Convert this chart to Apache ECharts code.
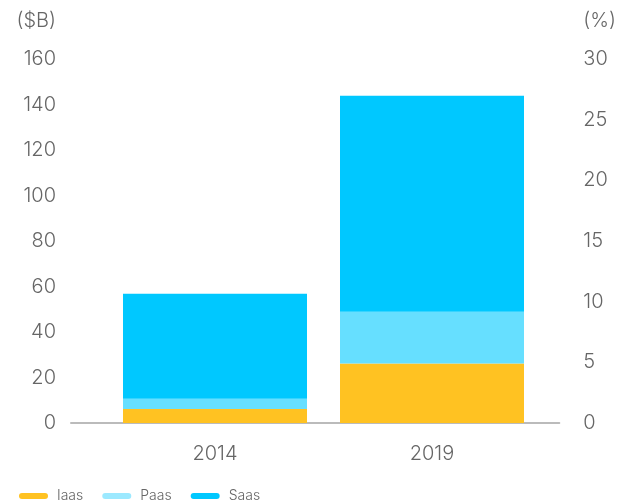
<!DOCTYPE html>
<html><head><meta charset="utf-8">
<script src="https://cdn.jsdelivr.net/npm/echarts@6/dist/echarts.min.js"></script>
<style>html,body{margin:0;padding:0;background:#fff}#c{width:619px;height:500px}</style>
</head><body><div id="c"></div>
<script>
const categories = ['2014', '2019'];
const iaas = [6.1, 26.1];
const paas = [4.6, 22.8];
const saas = [46.1, 95.0];
const leftTicks = [0, 160, 20];
const rightTicks = [0, 30, 5];

const FONT = 'Inter, "Noto Sans", sans-serif';
const LBL = {color: '#666', fontSize: 20, fontFamily: FONT, fontWeight: 300};
const PILL = 'path://M3,0 L26,0 A3,3 0 0 1 26,6 L3,6 A3,3 0 0 1 3,0 Z';
const chart = echarts.init(document.getElementById('c'), null, {renderer: 'canvas'});
chart.setOption({
  animation: false,
  grid: [
    {left: 106.5, right: 78.5, top: 59, bottom: 77},
    {left: 71, right: 52, top: 59, bottom: 77}
  ],
  legend: {
    left: 14, top: 484, icon: PILL, itemWidth: 29, itemHeight: 6, itemGap: 19,
    textStyle: {color: '#666', fontSize: 14, fontFamily: FONT, fontWeight: 300, padding: [0, 0, 0, 4]},
    data: [
      {name: 'Iaas', itemStyle: {color: '#FFC222'}},
      {name: 'Paas', itemStyle: {color: '#9CE9FF'}},
      {name: 'Saas', itemStyle: {color: '#00C8FF'}}
    ]
  },
  xAxis: [
    {type: 'category', gridIndex: 0, data: categories,
     axisLine: {show: false}, axisTick: {show: false},
     axisLabel: Object.assign({margin: 21}, LBL)},
    {type: 'category', gridIndex: 1, data: categories,
     axisLine: {show: true, lineStyle: {color: '#bbb', width: 2}},
     axisTick: {show: false}, axisLabel: {show: false}}
  ],
  yAxis: [
    {type: 'value', gridIndex: 0, min: leftTicks[0], max: leftTicks[1], interval: leftTicks[2], show: false},
    {type: 'value', gridIndex: 1, position: 'left', min: leftTicks[0], max: leftTicks[1], interval: leftTicks[2],
     name: '($B)', nameLocation: 'end', nameGap: 28,
     nameTextStyle: Object.assign({align: 'right', padding: [0, 15, 0, 0]}, LBL),
     axisLine: {show: false}, axisTick: {show: false}, splitLine: {show: false},
     axisLabel: Object.assign({margin: 15}, LBL)},
    {type: 'value', gridIndex: 1, position: 'right', min: rightTicks[0], max: rightTicks[1], interval: rightTicks[2],
     name: '(%)', nameLocation: 'end', nameGap: 28,
     nameTextStyle: Object.assign({align: 'left', padding: [0, 0, 0, 24]}, LBL),
     axisLine: {show: false}, axisTick: {show: false}, splitLine: {show: false},
     axisLabel: Object.assign({margin: 24}, LBL)}
  ],
  series: [
    {name: 'Iaas', type: 'bar', stack: 's', xAxisIndex: 0, yAxisIndex: 0, data: iaas, barWidth: 184, itemStyle: {color: '#FFC222'}},
    {name: 'Paas', type: 'bar', stack: 's', xAxisIndex: 0, yAxisIndex: 0, data: paas, barWidth: 184, itemStyle: {color: '#66DFFF'}},
    {name: 'Saas', type: 'bar', stack: 's', xAxisIndex: 0, yAxisIndex: 0, data: saas, barWidth: 184, itemStyle: {color: '#00C8FF'}}
  ]
});
</script></body></html>
